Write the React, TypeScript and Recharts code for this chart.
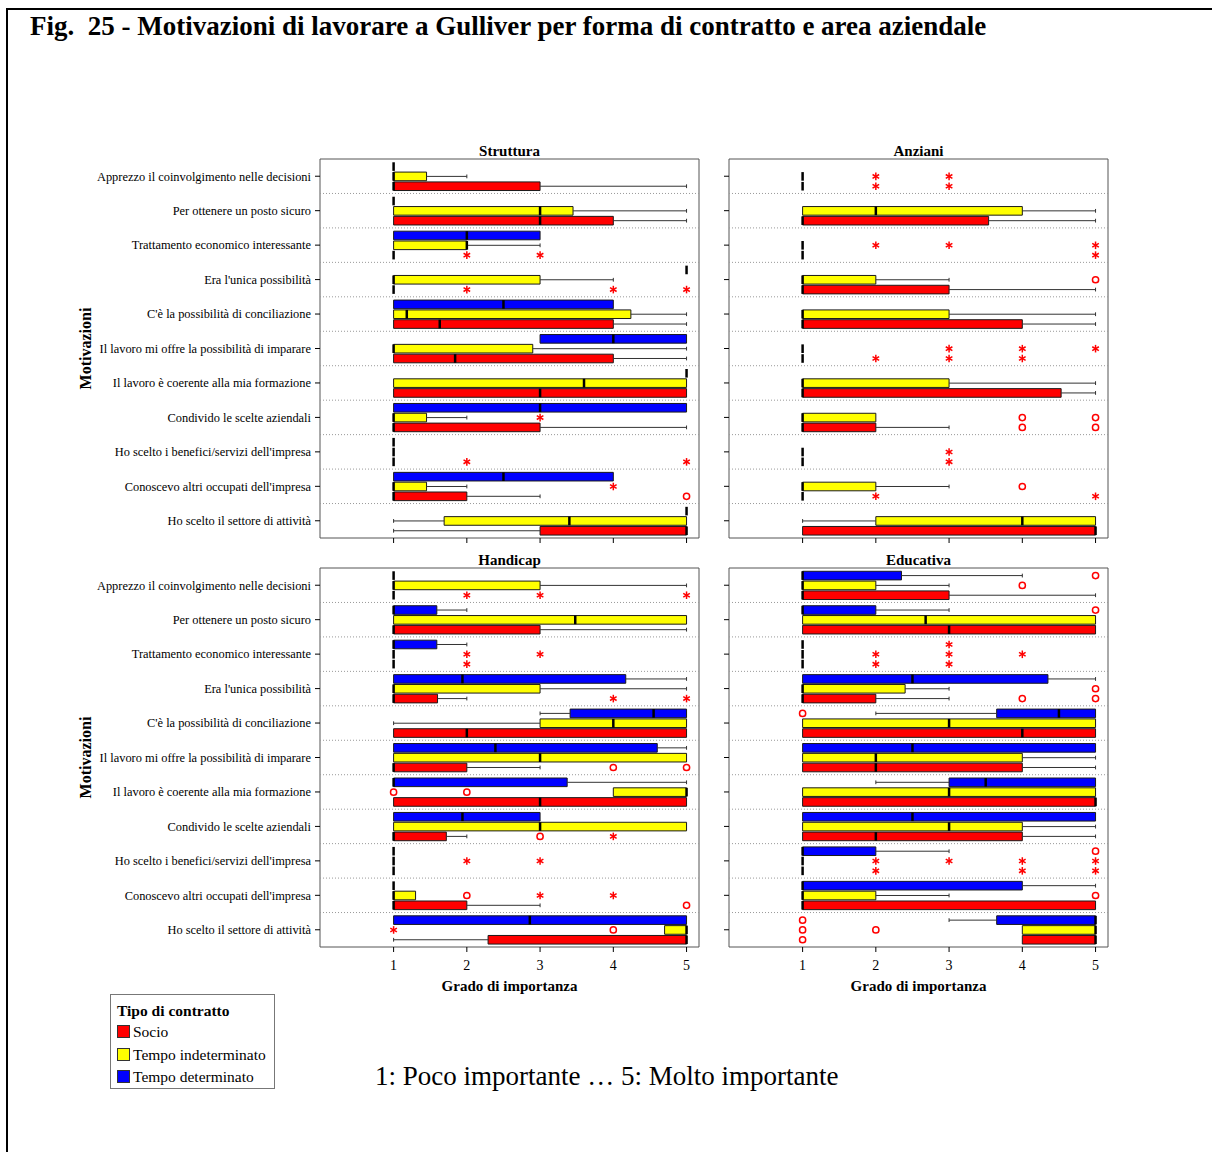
import React from 'react';
import { ComposedChart, XAxis, YAxis, ReferenceArea, ReferenceLine, Scatter } from 'recharts';

// ---- categories and scale ----
const motivazioni = [
  'Apprezzo il coinvolgimento nelle decisioni',
  'Per ottenere un posto sicuro',
  'Trattamento economico interessante',
  "Era l'unica possibilità",
  "C'è la possibilità di conciliazione",
  'Il lavoro mi offre la possibilità di imparare',
  'Il lavoro è coerente alla mia formazione',
  'Condivido le scelte aziendali',
  "Ho scelto i benefici/servizi dell'impresa",
  "Conoscevo altri occupati dell'impresa",
  'Ho scelto il settore di attività',
];
const gradi = [1, 2, 3, 4, 5];
const contratti = ['Socio', 'Tempo indeterminato', 'Tempo determinato'];
const coloriContratto = ['#FF0000', '#FFFF00', '#0000FF'];

type Stats = [number, number, number, number, number] | null; // min, q1, mediana, q3, max
type Outlier = [number, number, 'o' | '*']; // riga, valore, tipo

// ---- Struttura ----
const strutturaSocio: Stats[] = [
  [1, 1, 1, 3, 5], [1, 1, 3, 4, 5], [1, 1, 1, 1, 1], [1, 1, 1, 1, 1], [1, 1, 1.63, 4, 5], [1, 1, 1.84, 4, 5],
  [1, 1, 3, 5, 5], [1, 1, 1, 3, 5], [1, 1, 1, 1, 1], [1, 1, 1, 2, 3], [1, 3, 5, 5, 5],
];
const strutturaIndeterminato: Stats[] = [
  [1, 1, 1, 1.45, 2], [1, 1, 3, 3.45, 5], [1, 1, 2, 2, 3], [1, 1, 1, 3, 4], [1, 1, 1.18, 4.24, 5], [1, 1, 1, 2.9, 5],
  [1, 1, 3.6, 5, 5], [1, 1, 1, 1.45, 2], [1, 1, 1, 1, 1], [1, 1, 1, 1.45, 2], [1, 1.69, 3.4, 5, 5],
];
const strutturaDeterminato: Stats[] = [
  [1, 1, 1, 1, 1], [1, 1, 1, 1, 1], [1, 1, 2, 3, 3], [5, 5, 5, 5, 5], [1, 1, 2.5, 4, 4], [3, 3, 4, 5, 5],
  [5, 5, 5, 5, 5], [1, 1, 3, 5, 5], [1, 1, 1, 1, 1], [1, 1, 2.5, 4, 4], [5, 5, 5, 5, 5],
];
const strutturaSocioOut: Outlier[] = [
  [2, 2, '*'], [2, 3, '*'], [3, 2, '*'], [3, 4, '*'], [3, 5, '*'], [8, 2, '*'], [8, 5, '*'], [9, 5, 'o'],
];
const strutturaIndeterminatoOut: Outlier[] = [[7, 3, '*'], [9, 4, '*']];
const strutturaDeterminatoOut: Outlier[] = [];

// ---- Anziani ----
const anzianiSocio: Stats[] = [
  [1, 1, 1, 1, 1], [1, 1, 1, 3.54, 5], [1, 1, 1, 1, 1], [1, 1, 1, 3, 5], [1, 1, 1, 4, 5], [1, 1, 1, 1, 1],
  [1, 1, 1, 4.53, 5], [1, 1, 1, 2, 3], [1, 1, 1, 1, 1], [1, 1, 1, 1, 1], [1, 1, 5, 5, 5],
];
const anzianiIndeterminato: Stats[] = [
  [1, 1, 1, 1, 1], [1, 1, 2, 4, 5], [1, 1, 1, 1, 1], [1, 1, 1, 2, 3], [1, 1, 1, 3, 5], [1, 1, 1, 1, 1],
  [1, 1, 1, 3, 5], [1, 1, 1, 2, 2], [1, 1, 1, 1, 1], [1, 1, 1, 2, 3], [1, 2, 4, 5, 5],
];
const anzianiDeterminato: Stats[] = [null, null, null, null, null, null, null, null, null, null, null];
const anzianiSocioOut: Outlier[] = [
  [0, 2, '*'], [0, 3, '*'], [2, 5, '*'], [5, 2, '*'], [5, 3, '*'], [5, 4, '*'], [7, 4, 'o'], [7, 5, 'o'],
  [8, 3, '*'], [9, 2, '*'], [9, 5, '*'],
];
const anzianiIndeterminatoOut: Outlier[] = [
  [0, 2, '*'], [0, 3, '*'], [2, 2, '*'], [2, 3, '*'], [2, 5, '*'], [3, 5, 'o'], [5, 3, '*'], [5, 4, '*'],
  [5, 5, '*'], [7, 4, 'o'], [7, 5, 'o'], [8, 3, '*'], [9, 4, 'o'],
];
const anzianiDeterminatoOut: Outlier[] = [];

// ---- Handicap ----
const handicapSocio: Stats[] = [
  [1, 1, 1, 1, 1], [1, 1, 1, 3, 5], [1, 1, 1, 1, 1], [1, 1, 1, 1.6, 2], [1, 1, 2, 5, 5], [1, 1, 1, 2, 3],
  [1, 1, 3, 5, 5], [1, 1, 1, 1.72, 2], [1, 1, 1, 1, 1], [1, 1, 1, 2, 3], [1, 2.29, 5, 5, 5],
];
const handicapIndeterminato: Stats[] = [
  [1, 1, 1, 3, 5], [1, 1, 3.48, 5, 5], [1, 1, 1, 1, 1], [1, 1, 1, 3, 5], [1, 3, 4, 5, 5], [1, 1, 3, 5, 5],
  [4, 4, 5, 5, 5], [1, 1, 3, 5, 5], [1, 1, 1, 1, 1], [1, 1, 1, 1.3, 1.3], [4.7, 4.7, 5, 5, 5],
];
const handicapDeterminato: Stats[] = [
  [1, 1, 1, 1, 1], [1, 1, 1, 1.59, 2], [1, 1, 1, 1.59, 2], [1, 1, 1.94, 4.17, 5], [3, 3.41, 4.55, 5, 5],
  [1, 1, 2.39, 4.6, 5], [1, 1, 1, 3.37, 5], [1, 1, 1.94, 3, 3], [1, 1, 1, 1, 1], [1, 1, 1, 1, 1], [1, 1, 2.86, 5, 5],
];
const handicapSocioOut: Outlier[] = [
  [0, 2, '*'], [0, 3, '*'], [0, 5, '*'], [2, 2, '*'], [3, 4, '*'], [3, 5, '*'], [5, 4, 'o'], [5, 5, 'o'],
  [7, 3, 'o'], [7, 4, '*'], [9, 5, 'o'],
];
const handicapIndeterminatoOut: Outlier[] = [
  [2, 2, '*'], [2, 3, '*'], [6, 1, 'o'], [6, 2, 'o'], [8, 2, '*'], [8, 3, '*'], [9, 2, 'o'], [9, 3, '*'],
  [9, 4, '*'], [10, 1, '*'], [10, 4, 'o'],
];
const handicapDeterminatoOut: Outlier[] = [];

// ---- Educativa ----
const educativaSocio: Stats[] = [
  [1, 1, 1, 3, 5], [1, 1, 3, 5, 5], [1, 1, 1, 1, 1], [1, 1, 1, 2, 3], [1, 1, 4, 5, 5], [1, 1, 2, 4, 5],
  [1, 1, 5, 5, 5], [1, 1, 2, 4, 5], [1, 1, 1, 1, 1], [1, 1, 1, 5, 5], [4, 4, 5, 5, 5],
];
const educativaIndeterminato: Stats[] = [
  [1, 1, 1, 2, 3], [1, 1, 2.68, 5, 5], [1, 1, 1, 1, 1], [1, 1, 1, 2.4, 3], [1, 1, 3, 5, 5], [1, 1, 2, 4, 5],
  [1, 1, 3, 5, 5], [1, 1, 3, 4, 5], [1, 1, 1, 1, 1], [1, 1, 1, 2, 3], [4, 4, 5, 5, 5],
];
const educativaDeterminato: Stats[] = [
  [1, 1, 1, 2.35, 4], [1, 1, 1, 2, 3], [1, 1, 1, 1, 1], [1, 1, 2.5, 4.35, 5], [2, 3.65, 4.5, 5, 5],
  [1, 1, 2.5, 5, 5], [2, 3, 3.5, 5, 5], [1, 1, 2.5, 5, 5], [1, 1, 1, 2, 3], [1, 1, 1, 4, 5], [3, 3.65, 5, 5, 5],
];
const educativaSocioOut: Outlier[] = [
  [2, 2, '*'], [2, 3, '*'], [3, 4, 'o'], [3, 5, 'o'], [8, 2, '*'], [8, 4, '*'], [8, 5, '*'], [10, 1, 'o'],
];
const educativaIndeterminatoOut: Outlier[] = [
  [0, 4, 'o'], [2, 2, '*'], [2, 3, '*'], [2, 4, '*'], [3, 5, 'o'], [8, 2, '*'], [8, 3, '*'], [8, 4, '*'],
  [8, 5, '*'], [9, 5, 'o'], [10, 1, 'o'], [10, 2, 'o'],
];
const educativaDeterminatoOut: Outlier[] = [
  [0, 5, 'o'], [1, 5, 'o'], [2, 3, '*'], [4, 1, 'o'], [8, 5, 'o'], [10, 1, 'o'],
];

// ---- drawing constants ----
const FONT = "'Liberation Serif', 'Times New Roman', serif";
const X_DOMAIN: [number, number] = [-0.005, 5.17];
const Y_DOMAIN: [number, number] = [0, 11];
const rowTicks = motivazioni.map((_, i) => i + 0.5);
const separators = motivazioni.slice(1).map((_, i) => i + 1);
const SLOT = [0.79, 0.505, 0.22]; // vertical position of each contract inside a row
const BOX_H = 0.125;
const CAP_H = 0.055;
const PLOT = 379;

const EmptyTick = () => <g />;

const XTick = (p: any) => (
  <text x={p.x} y={p.y} dy="0.72em" textAnchor="middle" fontFamily={FONT} fontSize={14} fill="#000">
    {p.payload.value}
  </text>
);

const YTick = (p: any) => (
  <text x={p.x} y={p.y} dy="0.35em" textAnchor="end" fontFamily={FONT} fontSize={12.4} fill="#000">
    {motivazioni[Math.floor(p.payload.value)]}
  </text>
);

const XTitle = (p: any) => {
  const vb = p.viewBox || {};
  return (
    <text x={vb.x + vb.width / 2} y={vb.y + 39} dy="0.35em" textAnchor="middle" fontFamily={FONT}
      fontSize={15} fontWeight="bold" fill="#000">
      Grado di importanza
    </text>
  );
};

const YTitle = (p: any) => {
  const vb = p.viewBox || {};
  const cx = vb.x + 85;
  const cy = vb.y + vb.height / 2;
  return (
    <text x={cx} y={cy} dy="0.35em" textAnchor="middle" fontFamily={FONT} fontSize={16} fontWeight="bold"
      fill="#000" transform={`rotate(-90 ${cx} ${cy})`}>
      Motivazioni
    </text>
  );
};

const panelTitle = (text: string) => (p: any) => {
  const vb = p.viewBox || {};
  return (
    <text x={vb.x + vb.width / 2} y={vb.y - 3} textAnchor="middle" fontFamily={FONT} fontSize={15}
      fontWeight="bold" fill="#000">
      {text}
    </text>
  );
};

function OutlierMark(props: any) {
  const { cx, cy, payload } = props;
  if (cx == null || cy == null) return null;
  if (payload.kind === 'o') {
    return <circle cx={cx} cy={cy} r={3.1} fill="#fff" stroke="#FF0000" strokeWidth={1.5} />;
  }
  const r = 3.8;
  return (
    <g stroke="#FF0000" strokeWidth={1.5}>
      <line x1={cx} y1={cy - r} x2={cx} y2={cy + r} />
      <line x1={cx - r * 0.87} y1={cy - r * 0.5} x2={cx + r * 0.87} y2={cy + r * 0.5} />
      <line x1={cx - r * 0.87} y1={cy + r * 0.5} x2={cx + r * 0.87} y2={cy - r * 0.5} />
    </g>
  );
}

interface PanelProps {
  title: string;
  stats: Stats[][];
  outliers: Outlier[][];
  left: number;
  top: number;
  labelled: boolean;
  bottom: boolean;
}

function Panel({ title, stats, outliers, left, top, labelled, bottom }: PanelProps) {
  const width = labelled ? 710 : 502;
  const yAxisWidth = labelled ? 320 : 19;
  const marginRight = width - yAxisWidth - PLOT;
  const height = bottom ? 460 : 410;
  const xAxisHeight = height - 19 - PLOT;

  const boxes: React.ReactNode[] = [];
  const strokes: React.ReactNode[] = [];
  const points: { x: number; y: number; kind: string }[] = [];

  stats.forEach((serie, si) => {
    const off = SLOT[si];
    serie.forEach((st, row) => {
      if (!st) return;
      const [mn, q1, md, q3, mx] = st;
      const y = row + off;
      const k = `${si}-${row}`;
      if (q3 > q1) {
        boxes.push(
          <ReferenceArea key={`b${k}`} x1={q1} x2={q3} y1={y - BOX_H} y2={y + BOX_H}
            fill={coloriContratto[si]} fillOpacity={1} stroke="#1a1a1a" strokeWidth={1} ifOverflow="visible" />
        );
      }
      if (mn < q1) {
        strokes.push(<ReferenceLine key={`wl${k}`} segment={[{ x: mn, y }, { x: q1, y }]} stroke="#333" strokeWidth={1} ifOverflow="visible" />);
        strokes.push(<ReferenceLine key={`cl${k}`} segment={[{ x: mn, y: y - CAP_H }, { x: mn, y: y + CAP_H }]} stroke="#333" strokeWidth={1} ifOverflow="visible" />);
      }
      if (mx > q3) {
        strokes.push(<ReferenceLine key={`wr${k}`} segment={[{ x: q3, y }, { x: mx, y }]} stroke="#333" strokeWidth={1} ifOverflow="visible" />);
        strokes.push(<ReferenceLine key={`cr${k}`} segment={[{ x: mx, y: y - CAP_H }, { x: mx, y: y + CAP_H }]} stroke="#333" strokeWidth={1} ifOverflow="visible" />);
      }
      strokes.push(
        <ReferenceLine key={`m${k}`} segment={[{ x: md, y: y - BOX_H }, { x: md, y: y + BOX_H }]}
          stroke="#000" strokeWidth={2.5} ifOverflow="visible" />
      );
    });
    outliers[si].forEach(([row, v, kind]) => points.push({ x: v, y: row + off, kind }));
  });

  return (
    <div style={{ position: 'absolute', left, top }}>
      <ComposedChart width={width} height={height} margin={{ top: 19, right: marginRight, bottom: 0, left: 0 }}>
        <XAxis type="number" dataKey="x" domain={X_DOMAIN} ticks={gradi} interval={0} allowDataOverflow
          height={xAxisHeight} axisLine={false} stroke="#000" tickLine={{ stroke: '#000' }} tickSize={5}
          tickMargin={8} tick={bottom ? XTick : EmptyTick} label={bottom ? { content: XTitle } : undefined} />
        <YAxis type="number" dataKey="y" domain={Y_DOMAIN} reversed ticks={rowTicks} interval={0} allowDataOverflow
          width={yAxisWidth} axisLine={false} stroke="#000" tickLine={{ stroke: '#000' }} tickSize={5}
          tickMargin={4} tick={labelled ? YTick : EmptyTick} label={labelled ? { content: YTitle } : undefined} />
        <ReferenceArea x1={X_DOMAIN[0]} x2={X_DOMAIN[1]} y1={Y_DOMAIN[0]} y2={Y_DOMAIN[1]} fill="none"
          stroke="#555" strokeWidth={1} ifOverflow="visible" label={{ content: panelTitle(title) }} />
        {separators.map((s) => (
          <ReferenceLine key={`s${s}`} y={s} stroke="#999" strokeDasharray="1 2" strokeWidth={1} />
        ))}
        {boxes}
        {strokes}
        <Scatter data={points} shape={OutlierMark} isAnimationActive={false} />
      </ComposedChart>
    </div>
  );
}

export default function App() {
  return (
    <div style={{ position: 'absolute', left: 0, top: 0, width: 1212, height: 1152, overflow: 'hidden', background: '#fff', fontFamily: FONT }}>
      <div style={{ position: 'absolute', left: 6, top: 8, width: 1400, height: 1400, borderTop: '2px solid #000', borderLeft: '2px solid #000' }} />
      <div style={{ position: 'absolute', left: 30, top: 13, fontSize: 27, lineHeight: '27px', fontWeight: 'bold', whiteSpace: 'pre', color: '#000' }}>
        {'Fig.  25 - Motivazioni di lavorare a Gulliver per forma di contratto e area aziendale'}
      </div>

      <Panel title="Struttura" left={0} top={140} labelled bottom={false}
        stats={[strutturaSocio, strutturaIndeterminato, strutturaDeterminato]}
        outliers={[strutturaSocioOut, strutturaIndeterminatoOut, strutturaDeterminatoOut]} />
      <Panel title="Anziani" left={710} top={140} labelled={false} bottom={false}
        stats={[anzianiSocio, anzianiIndeterminato, anzianiDeterminato]}
        outliers={[anzianiSocioOut, anzianiIndeterminatoOut, anzianiDeterminatoOut]} />
      <Panel title="Handicap" left={0} top={549} labelled bottom
        stats={[handicapSocio, handicapIndeterminato, handicapDeterminato]}
        outliers={[handicapSocioOut, handicapIndeterminatoOut, handicapDeterminatoOut]} />
      <Panel title="Educativa" left={710} top={549} labelled={false} bottom
        stats={[educativaSocio, educativaIndeterminato, educativaDeterminato]}
        outliers={[educativaSocioOut, educativaIndeterminatoOut, educativaDeterminatoOut]} />

      {/* legend */}
      <div style={{ position: 'absolute', left: 110, top: 994, width: 165, height: 95, border: '1px solid #777', boxSizing: 'border-box' }}>
        <div style={{ position: 'absolute', left: 6, top: 7, fontSize: 15.5, lineHeight: '17px', fontWeight: 'bold', whiteSpace: 'nowrap' }}>
          Tipo di contratto
        </div>
        {contratti.map((c, i) => (
          <div key={c} style={{ position: 'absolute', left: 6, top: 28 + i * 22.5, height: 17, display: 'flex', alignItems: 'center', whiteSpace: 'nowrap' }}>
            <span style={{ display: 'inline-block', width: 11, height: 11, background: coloriContratto[i], border: '1px solid #333', marginRight: 3 }} />
            <span style={{ fontSize: 15.5, lineHeight: '17px' }}>{c}</span>
          </div>
        ))}
      </div>

      <div style={{ position: 'absolute', left: 375, top: 1063, fontSize: 27, lineHeight: '27px', whiteSpace: 'nowrap' }}>
        1: Poco importante … 5: Molto importante
      </div>
    </div>
  );
}
